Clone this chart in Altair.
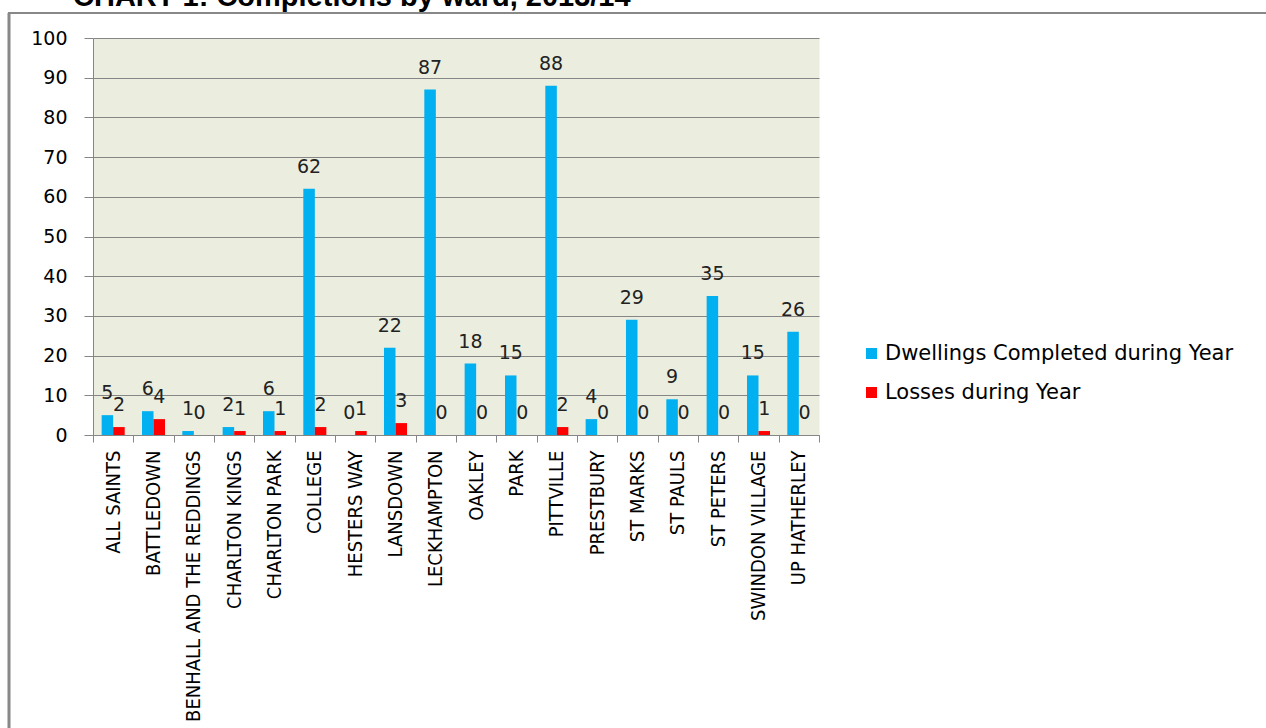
import altair as alt
import pandas as pd

wards = ["ALL SAINTS", "BATTLEDOWN", "BENHALL AND THE REDDINGS", "CHARLTON KINGS",
         "CHARLTON PARK", "COLLEGE", "HESTERS WAY", "LANSDOWN", "LECKHAMPTON",
         "OAKLEY", "PARK", "PITTVILLE", "PRESTBURY", "ST MARKS", "ST PAULS",
         "ST PETERS", "SWINDON VILLAGE", "UP HATHERLEY"]
dwellings = [5, 6, 1, 2, 6, 62, 0, 22, 87, 18, 15, 88, 4, 29, 9, 35, 15, 26]
losses = [2, 4, 0, 1, 1, 2, 1, 3, 0, 0, 0, 2, 0, 0, 0, 0, 1, 0]
series = ["Dwellings Completed during Year", "Losses during Year"]
colors = ["#00B0F0", "#FF0000"]
y_ticks = list(range(0, 101, 10))
title_text = "CHART 1: Completions by ward, 2013/14"

rows = []
for w, d, l in zip(wards, dwellings, losses):
    rows.append({"ward": w, "series": series[0], "value": d})
    rows.append({"ward": w, "series": series[1], "value": l})
df = pd.DataFrame(rows)

W, H = 726, 397
NUM_FONT = "DejaVu Sans"
LAB_FONT = "Liberation Sans Narrow, DejaVu Sans Condensed, Arial Narrow, sans-serif"

x_enc = alt.X("ward:N", sort=wards, title=None,
              scale=alt.Scale(paddingInner=0, paddingOuter=0),
              axis=alt.Axis(labelAngle=270, labelAlign="right", labelBaseline="middle",
                            labelFont=LAB_FONT, labelFontSize=20, labelColor="#000000",
                            labelPadding=8, tickSize=7, tickColor="#868686",
                            tickBand="extent", domainColor="#868686", grid=False,
                            labelLimit=400))
y_enc = alt.Y("value:Q", title=None,
              scale=alt.Scale(domain=[0, 100], nice=False),
              axis=alt.Axis(values=y_ticks, labelFont=NUM_FONT, labelFontSize=19,
                            labelColor="#000000", labelPadding=17, tickSize=9,
                            tickColor="#868686", domainColor="#868686",
                            gridColor="#868686", gridOpacity=1, gridWidth=1))
xo_enc = alt.XOffset("series:N", sort=series,
                     scale=alt.Scale(domain=series, paddingOuter=0.75, paddingInner=0))

bars = alt.Chart(df).mark_bar().encode(
    x=x_enc, y=y_enc, xOffset=xo_enc,
    color=alt.Color("series:N", sort=series,
                    scale=alt.Scale(domain=series, range=colors),
                    legend=alt.Legend(title=None, orient="none", legendX=768, legendY=305,
                                      symbolType="square", symbolSize=121,
                                      symbolStrokeWidth=0, labelFont=NUM_FONT,
                                      labelFontSize=21, labelColor="#000000",
                                      labelOffset=3, rowPadding=17, labelLimit=500)),
)

labels = alt.Chart(df).mark_text(baseline="alphabetic", dy=-16, font=NUM_FONT,
                                 fontSize=19, color="#222222").encode(
    x=x_enc, y=y_enc, xOffset=xo_enc, text="value:Q"
)

one = pd.DataFrame({"k": [0]})
frame_left = alt.Chart(one).mark_rule(color="#888888", strokeWidth=3).encode(
    x=alt.value(-84), y=alt.value(-25), y2=alt.value(700))
frame_top = alt.Chart(one).mark_rule(color="#888888", strokeWidth=2).encode(
    x=alt.value(-85), x2=alt.value(1180), y=alt.value(-25))

title_df = pd.DataFrame({"t": [title_text]})
title = alt.Chart(title_df).mark_text(align="left", baseline="alphabetic",
                                      font="Liberation Sans", fontWeight="bold",
                                      fontSize=29, color="#000000").encode(
    x=alt.value(-20), y=alt.value(-32), text="t:N")

chart = alt.layer(bars, labels, frame_left, frame_top, title).properties(
    width=W, height=H,
    autosize=alt.AutoSizeParams(type="none"),
    padding={"left": 93, "top": 38, "right": 447, "bottom": 293},
    background="#FFFFFF",
).configure_view(fill="#EBEEDF", stroke="transparent")

chart.save("out.html", embed_options={"renderer": "svg", "actions": False})
